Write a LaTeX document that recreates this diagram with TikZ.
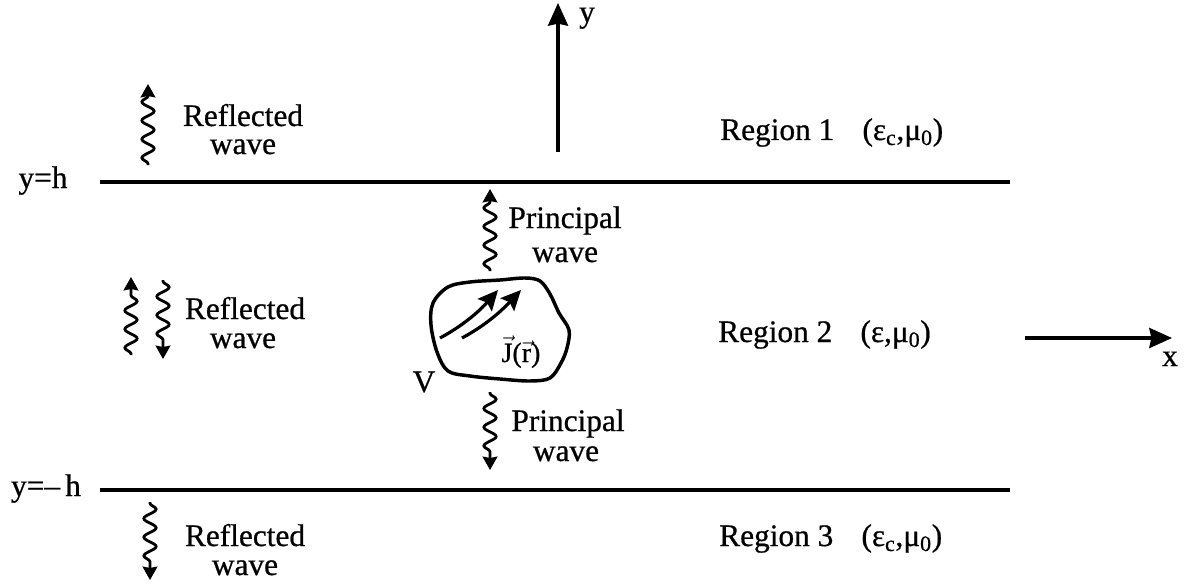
\documentclass[tikz,border=0pt]{standalone}
\usepackage{fontspec}
\setmainfont{Liberation Serif}[FakeBold=0.7]
\newfontfamily\heavy{Liberation Serif}[FakeBold=0.7]
\usetikzlibrary{arrows.meta,decorations.pathmorphing}
\begin{document}
\begin{tikzpicture}[x=0.75pt,y=-0.75pt,
  txt/.style={font=\heavy\fontsize{23.5}{23.5}\selectfont, inner sep=0pt, anchor=base},
  boundary/.style={line width=2.6pt},
  axis/.style={line width=2.4pt, -{Stealth[length=17pt,width=15pt,inset=1.5pt]}},
  wavy/.style={line width=2.1pt, decorate,
    decoration={snake, amplitude=4.6pt, segment length=14pt, pre length=1pt, post length=8pt},
    -{Stealth[length=10pt,width=11pt,inset=1pt]}},
  curarrow/.style={line width=2.4pt, -{Stealth[length=15pt,width=14pt,inset=2.5pt]}}]
\useasboundingbox (0,0) rectangle (1187,588);

% boundaries
\coordinate (t1) at (100,182); \coordinate (t2) at (1010,182);
\coordinate (b1) at (100,490); \coordinate (b2) at (1010,490);
\draw[boundary] (t1) -- (t2);
\draw[boundary] (b1) -- (b2);
\node[txt] (yh) at (43,188) {y=h};
\node[txt] (ymh) at (46,496) {y=–\,h};

% axes
\coordinate (ya) at (558,152); \coordinate (yb) at (558,3);
\draw[axis] (ya) -- (yb);
\node[txt] (ylab) at (587,22) {y};
\coordinate (xa) at (1025,338); \coordinate (xb) at (1172,338);
\draw[axis] (xa) -- (xb);
\node[txt] (xlab) at (1170,366) {x};

% region labels
\node[txt, anchor=base west] (r1) at (720,140) {Region 1\hspace{0.9em}(ε\textsubscript{c},μ\textsubscript{0})};
\node[txt, anchor=base west] (r2) at (718,342) {Region 2\hspace{0.9em}(ε,μ\textsubscript{0})};
\node[txt, anchor=base west] (r3) at (719,546) {Region 3\hspace{0.9em}(ε\textsubscript{c},μ\textsubscript{0})};

% reflected waves
\coordinate (w1a) at (148,165); \coordinate (w1b) at (148,84);
\draw[wavy] (w1a) -- (w1b);
\node[txt] (rf1) at (243,126) {Reflected};
\node[txt] (wv1) at (243,154) {wave};

\coordinate (w2a) at (131,355); \coordinate (w2b) at (131,277);
\draw[wavy] (w2a) -- (w2b);
\coordinate (w3a) at (163,280); \coordinate (w3b) at (163,359);
\draw[wavy] (w3a) -- (w3b);
\node[txt] (rf2) at (245,319) {Reflected};
\node[txt] (wv2) at (243,348) {wave};

\coordinate (w4a) at (150,502); \coordinate (w4b) at (150,580);
\draw[wavy] (w4a) -- (w4b);
\node[txt] (rf3) at (245,546) {Reflected};
\node[txt] (wv3) at (245,575) {wave};

% principal waves
\coordinate (p1a) at (490,271); \coordinate (p1b) at (490,189);
\draw[wavy] (p1a) -- (p1b);
\node[txt] (pr1) at (565,228) {Principal};
\node[txt] (pw1) at (565,262) {wave};

\coordinate (p2a) at (490,392); \coordinate (p2b) at (490,470);
\draw[wavy] (p2a) -- (p2b);
\node[txt] (pr2) at (568,431) {Principal};
\node[txt] (pw2) at (566,461) {wave};

% source volume
\draw[line width=2.6pt] plot[smooth cycle, tension=0.55] coordinates {
  (433,303) (448,287) (470,282) (500,280) (525,278) (540,281)
  (550,294) (559,313) (569,330) (567,348) (561,363) (550,378)
  (530,381) (500,379) (470,376) (448,371) (437,352) (431,325)};
\coordinate (c1a) at (440,338); \coordinate (c1b) at (498,290);
\coordinate (c2a) at (462,338); \coordinate (c2b) at (521,290);
\draw[curarrow] (c1a) .. controls (468,323) and (484,306) .. (c1b);
\draw[curarrow] (c2a) .. controls (490,323) and (506,306) .. (c2b);
\node[font=\heavy\fontsize{21}{21}\selectfont, inner sep=0pt, anchor=base] (J) at (521,362) {$\vec{\mathrm{J}}$($\vec{\mathrm{r}}$)};
\node[txt] (V) at (424,392) {V};
\end{tikzpicture}
\end{document}
